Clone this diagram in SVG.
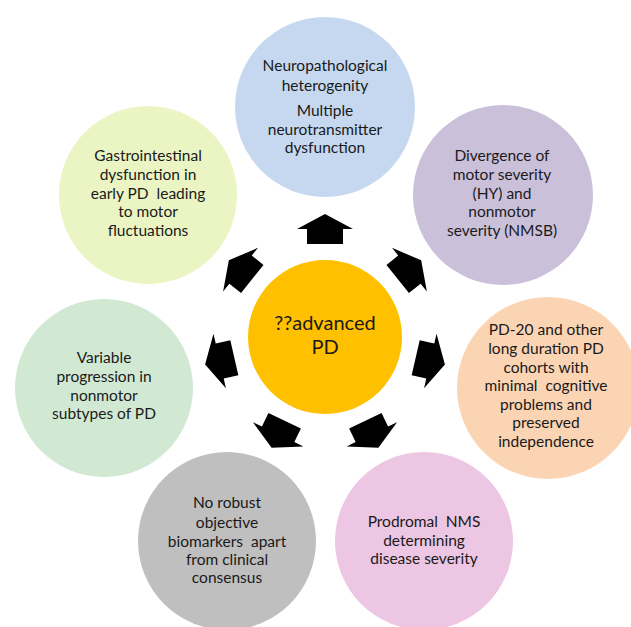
<svg xmlns="http://www.w3.org/2000/svg" width="631" height="627" viewBox="0 0 631 627">
<style>
text{font-family:Lato,"Open Sans","Liberation Sans",sans-serif;font-size:15.5px;fill:#1a1a1a;text-anchor:middle;white-space:pre}
.c{font-size:20px}
</style>
<defs>
<path id="arr" d="M0,-123 L28,-108 L18,-108 L18,-93 L-18,-93 L-18,-108 L-28,-108 Z" fill="#000"/>
</defs>
<rect width="631" height="627" fill="#fff"/>
<g id="n-top"><circle cx="325" cy="107" r="90" fill="#C5D8F0"/>
<text x="325" y="71">Neuropathological</text><text x="325" y="91">heterogenity</text><text x="325" y="116">Multiple</text><text x="325" y="135">neurotransmitter</text><text x="325" y="153">dysfunction</text></g>
<g id="n-purple"><circle cx="503" cy="195" r="90" fill="#CBC0DA"/>
<text x="502" y="161">Divergence of</text><text x="502" y="180">motor severity</text><text x="502" y="199">(HY) and</text><text x="502" y="217">nonmotor</text><text x="502" y="236">severity (NMSB)</text></g>
<g id="n-orange"><circle cx="548" cy="388" r="91" fill="#FBD4B4"/>
<text x="546" y="335">PD-20 and other</text><text x="546" y="354">long duration PD</text><text x="546" y="373">cohorts with</text><text x="546" y="391">minimal  cognitive</text><text x="546" y="410">problems and</text><text x="546" y="428">preserved</text><text x="546" y="447">independence</text></g>
<g id="n-pink"><circle cx="424" cy="541" r="89" fill="#EDC6E3"/>
<text x="424" y="527">Prodromal  NMS</text><text x="424" y="546">determining</text><text x="424" y="564">disease severity</text></g>
<g id="n-gray"><circle cx="227" cy="541" r="89" fill="#BFBFBF"/>
<text x="227" y="508">No robust</text><text x="227" y="528">objective</text><text x="227" y="547">biomarkers  apart</text><text x="227" y="565">from clinical</text><text x="227" y="583">consensus</text></g>
<g id="n-green"><circle cx="104" cy="388" r="89" fill="#D1E9D3"/>
<text x="104" y="363">Variable</text><text x="104" y="382">progression in</text><text x="104" y="401">nonmotor</text><text x="104" y="419">subtypes of PD</text></g>
<g id="n-yellow"><circle cx="148" cy="195" r="89" fill="#EBF5C3"/>
<text x="148" y="161">Gastrointestinal</text><text x="148" y="180">dysfunction in</text><text x="148" y="199">early PD  leading</text><text x="148" y="217">to motor</text><text x="148" y="236">fluctuations</text></g>
<g id="n-center"><circle cx="325" cy="337" r="77" fill="#FFC000"/>
<text class="c" x="325" y="330">??advanced</text><text class="c" x="325" y="354">PD</text></g>
<g id="connectors" transform="translate(325,337)">
<use href="#arr"/>
<use href="#arr" transform="rotate(51.43)"/>
<use href="#arr" transform="rotate(102.86)"/>
<use href="#arr" transform="rotate(154.29)"/>
<use href="#arr" transform="rotate(205.71)"/>
<use href="#arr" transform="rotate(257.14)"/>
<use href="#arr" transform="rotate(308.57)"/>
</g>
</svg>
